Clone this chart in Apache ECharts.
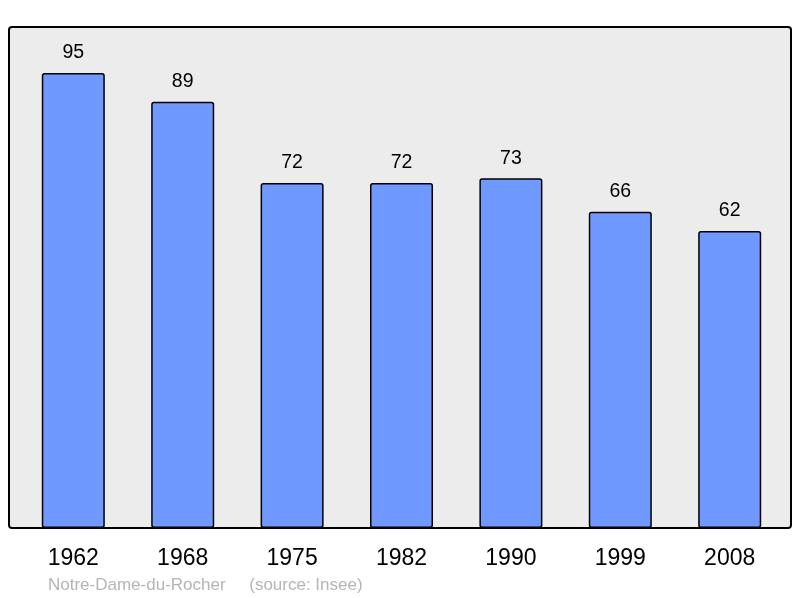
<!DOCTYPE html>
<html>
<head>
<meta charset="utf-8">
<script src="https://cdn.jsdelivr.net/npm/echarts@6/dist/echarts.min.js"></script>
<style>
  html, body { margin: 0; padding: 0; background: #fff; }
  #chart { width: 800px; height: 598px; }
</style>
</head>
<body>
<div id="chart"></div>
<script>
// population par recensement
var years = ['1962', '1968', '1975', '1982', '1990', '1999', '2008'];
var population = [95, 89, 72, 72, 73, 66, 62];
var placeName = 'Notre-Dame-du-Rocher';
var sourceText = '(source: Insee)';

var chart = echarts.init(document.getElementById('chart'));

var option = {
    animation: false,
    graphic: [
        {
            type: 'rect',
            z: -10,
            shape: { x: 9, y: 27, width: 782, height: 501, r: 3 },
            style: { fill: '#ececec', stroke: '#000', lineWidth: 2 }
        },
        {
            type: 'text',
            left: 48,
            top: 577,
            style: {
                text: placeName + '     ' + sourceText,
                fill: '#b5b5b5',
                font: '17px "Liberation Sans", Arial, sans-serif'
            }
        }
    ],
    grid: {
        left: 18.6,
        right: 15.6,
        top: 49,
        bottom: 70
    },
    xAxis: {
        type: 'category',
        data: years,
        axisLine: { show: false },
        axisTick: { show: false },
        axisLabel: {
            color: '#000',
            fontSize: 23,
            fontFamily: '"Liberation Sans", Arial, sans-serif',
            margin: 19
        }
    },
    yAxis: {
        type: 'value',
        min: 0,
        max: 100,
        show: false,
        splitLine: { show: false }
    },
    series: [
        {
            type: 'bar',
            data: population,
            barWidth: '57.6%',
            itemStyle: {
                color: '#7099ff',
                borderColor: '#000',
                borderWidth: 1.5,
                borderRadius: 2
            },
            label: {
                show: true,
                position: 'top',
                distance: 10,
                color: '#000',
                fontSize: 19.5,
                fontFamily: '"Liberation Sans", Arial, sans-serif'
            }
        }
    ]
};

chart.setOption(option);
</script>
</body>
</html>
